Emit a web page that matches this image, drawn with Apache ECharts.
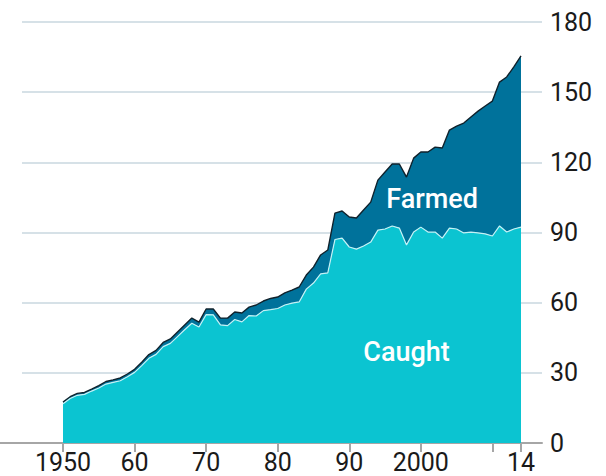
<!DOCTYPE html>
<html>
<head>
<meta charset="utf-8">
<script src="https://cdn.jsdelivr.net/npm/echarts@6/dist/echarts.min.js"></script>
<style>
html,body{margin:0;padding:0;background:#fff;}
#c{width:606px;height:476px;}
</style>
</head>
<body>
<div id="c"></div>
<script>
const years = [
1950,1951,1952,1953,1954,1955,1956,1957,1958,1959,
1960,1961,1962,1963,1964,1965,1966,1967,1968,1969,
1970,1971,1972,1973,1974,1975,1976,1977,1978,1979,
1980,1981,1982,1983,1984,1985,1986,1987,1988,1989,
1990,1991,1992,1993,1994,1995,1996,1997,1998,1999,
2000,2001,2002,2003,2004,2005,2006,2007,2008,2009,
2010,2011,2012,2013,2014];
const caught = [
16.8,19.0,20.4,20.8,22.2,23.5,25.2,25.9,26.6,28.3,
30.2,33.1,36.2,37.9,41.2,42.6,45.5,48.4,51.2,49.6,
54.9,54.8,50.5,50.2,52.8,51.8,54.5,54.3,56.6,57.0,
57.5,59.0,59.8,60.3,65.8,68.4,72.3,72.7,87.0,87.6,
83.8,82.9,84.2,85.9,91.0,91.5,92.8,91.9,84.7,90.2,
92.3,90.2,90.2,87.6,91.9,91.5,89.8,90.2,89.8,89.4,
88.5,92.8,90.2,91.5,92.3];
const farmed = [
0.7,0.8,0.8,0.8,0.8,1.0,1.1,1.1,1.2,1.2,
1.3,1.4,1.6,1.7,1.8,1.9,2.0,2.1,2.2,2.1,
2.4,2.5,2.9,3.2,3.2,3.8,3.6,4.7,4.1,4.8,
4.9,5.2,5.6,6.4,6.0,6.8,8.1,9.8,11.3,11.6,
12.8,13.3,15.4,17.1,21.4,24.4,26.5,27.4,29.0,31.6,
32.1,34.2,36.3,38.5,41.9,44.0,47.0,49.2,52.1,54.7,
57.7,61.5,66.3,69.3,73.2];
const xTickValues = [1950,1960,1970,1980,1990,2000,2010,2014];
const xLabelValues = [1950,1960,1970,1980,1990,2000,2014];
const yMin = 0, yMax = 180, yStep = 30;
const seriesNames = ['Caught','Farmed'];
const labelAt = {Caught:['1998', 38.9], Farmed:['2002', 104.3]};

const FONT = 'Roboto, "Noto Sans", sans-serif';
const chart = echarts.init(document.getElementById('c'), null, {renderer:'svg'});

function xLabel(v){
  const n = +v;
  if (n === 1950 || n === 2000) return String(n);
  return String(n % 100).padStart(2,'0');
}
const cats = years.map(String);

const option = {
  animation:false,
  backgroundColor:'#ffffff',
  grid:[
    {left:63, right:85, top:22, bottom:33},
    {left:22, right:64, top:22, bottom:33},
    {left:0, right:64, top:22, bottom:33}
  ],
  xAxis:[
    {gridIndex:0, type:'category', data:cats, boundaryGap:false,
     axisLine:{show:false}, splitLine:{show:false},
     axisTick:{show:true, interval:(i,v)=>xTickValues.includes(+v), length:9,
       lineStyle:{color:'#a6a6a6', width:2}},
     axisLabel:{show:true, interval:(i,v)=>xLabelValues.includes(+v), formatter:xLabel, margin:9,
       color:'#1a1a1a', fontSize:25, lineHeight:20, fontFamily:FONT}},
    {gridIndex:1, type:'value', min:0, max:1, show:false},
    {gridIndex:2, type:'value', min:0, max:1,
     axisLine:{show:true, lineStyle:{color:'#a6a6a6', width:2}},
     axisTick:{show:false}, axisLabel:{show:false}, splitLine:{show:false}}
  ],
  yAxis:[
    {gridIndex:0, type:'value', min:yMin, max:yMax, interval:yStep, show:false},
    {gridIndex:1, type:'value', min:yMin, max:yMax, interval:yStep, position:'right',
     axisLine:{show:false}, axisTick:{show:false},
     splitLine:{show:true, lineStyle:{color:'#c9d7df', width:1.5}},
     axisLabel:{show:true, margin:8, color:'#1a1a1a', fontSize:25, fontFamily:FONT}},
    {gridIndex:2, type:'value', min:yMin, max:yMax, show:false}
  ],
  series:[
    {name:seriesNames[0], type:'line', xAxisIndex:0, yAxisIndex:0, stack:'fish',
     data: caught,
     symbol:'none', smooth:false,
     lineStyle:{color:'#c4f1f5', width:1.2},
     areaStyle:{color:'#0bc4d1', opacity:1},
     z:3,
     markPoint:{symbol:'circle', symbolSize:0, silent:true,
       data:[{coord:labelAt.Caught, value:'Caught'}],
       label:{show:true, position:'inside', formatter:'Caught', color:'#ffffff',
         fontSize:27, fontWeight:500, fontFamily:FONT}}},
    {name:seriesNames[1], type:'line', xAxisIndex:0, yAxisIndex:0, stack:'fish',
     data: farmed,
     symbol:'none', smooth:false,
     lineStyle:{color:'#10222c', width:1.4},
     areaStyle:{color:'#00729b', opacity:1},
     z:2,
     markPoint:{symbol:'circle', symbolSize:0, silent:true,
       data:[{coord:labelAt.Farmed, value:'Farmed'}],
       label:{show:true, position:'inside', formatter:'Farmed', color:'#ffffff', offset:[-3,0],
         fontSize:27, fontWeight:500, fontFamily:FONT}}}
  ]
};
chart.setOption(option);
</script>
</body>
</html>
